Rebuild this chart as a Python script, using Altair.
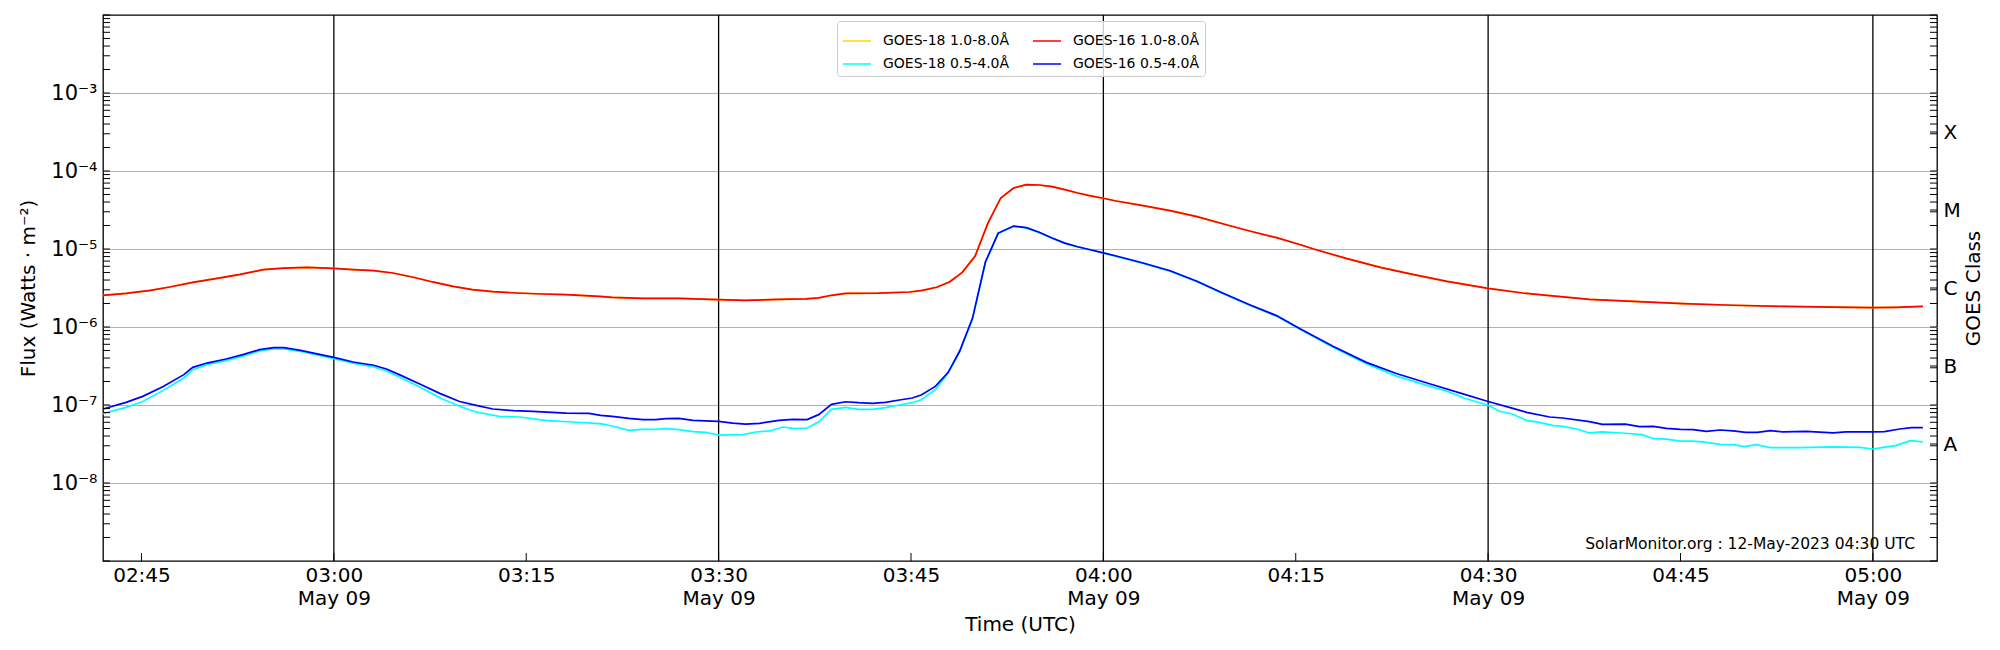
import altair as alt
import pandas as pd

# ---------------- data (minutes after 03:00 UTC, 2023-05-09) ----------------
g16_long_t = [-18, -16.2, -14.3, -12.8, -11, -9.1, -7.3, -5.5, -3.9, -2.1, 0, 1.5, 3.1, 4.6, 6.2,
              7.7, 9.3, 10.8, 12.4, 14.2, 16.3, 18.1, 20.7, 21.7, 24.1, 26.9, 30, 32.1, 34.7, 36.8,
              37.8, 38.8, 39.9, 42.5, 44.9, 45.9, 47, 48, 49, 50, 51, 52, 53, 54, 55, 56, 57, 58,
              59, 60, 61, 63.1, 65.2, 67.3, 69.3, 71.4, 73.5, 75.3, 76.4, 79, 81.6, 84.2, 86.8, 90,
              92.7, 94.8, 97.9, 101.3, 105.2, 109.1, 113, 116.9, 120, 121.8, 123.9]
g16_long_v = [2.55e-6, 2.70e-6, 2.95e-6, 3.26e-6, 3.74e-6, 4.21e-6, 4.73e-6, 5.43e-6, 5.70e-6, 5.82e-6,
              5.65e-6, 5.43e-6, 5.27e-6, 4.92e-6, 4.34e-6, 3.78e-6, 3.32e-6, 3.01e-6, 2.84e-6, 2.73e-6,
              2.65e-6, 2.60e-6, 2.47e-6, 2.40e-6, 2.33e-6, 2.33e-6, 2.24e-6, 2.20e-6, 2.26e-6, 2.29e-6,
              2.36e-6, 2.55e-6, 2.70e-6, 2.72e-6, 2.81e-6, 2.95e-6, 3.23e-6, 3.78e-6, 5.02e-6, 8.13e-6,
              2.15e-5, 4.51e-5, 6.05e-5, 6.68e-5, 6.61e-5, 6.31e-5, 5.77e-5, 5.22e-5, 4.79e-5, 4.47e-5,
              4.12e-5, 3.60e-5, 3.10e-5, 2.60e-5, 2.11e-5, 1.70e-5, 1.40e-5, 1.14e-5, 1.00e-5, 7.52e-6,
              5.82e-6, 4.69e-6, 3.85e-6, 3.13e-6, 2.73e-6, 2.52e-6, 2.26e-6, 2.13e-6, 1.99e-6, 1.90e-6,
              1.84e-6, 1.80e-6, 1.77e-6, 1.79e-6, 1.84e-6]

g18_long_t = g16_long_t
g18_long_v = g16_long_v

g16_short_t = [-18, -16.2, -14.9, -13.3, -11.7, -11, -9.9, -8.4, -7.1, -5.8, -4.7, -3.9, -2.6, -1.4, 0,
               1.5, 3.1, 4.1, 5.1, 6.7, 8.3, 9.8, 11.1, 12.4, 14, 15.5, 18.1, 19.9, 20.8, 21.7, 23,
               24.1, 25.1, 25.9, 26.9, 28, 30, 31.1, 32.1, 33.2, 34.7, 35.8, 36.9, 37.8, 38.8, 39.9,
               40.9, 42, 43, 44.1, 45.1, 45.8, 46.9, 47.9, 48.8, 49.8, 50.8, 51.8, 53, 54, 55, 56, 57,
               58, 59, 60, 61, 63.1, 65.2, 67.3, 69.3, 71.4, 73.5, 75.3, 77.9, 80.5, 82.9, 85.5, 88.1,
               90, 92, 93, 94.8, 95.8, 97.9, 98.9, 100.7, 101.8, 102.9, 103.9, 105, 106, 107, 108.1,
               109.1, 110.1, 111, 112, 113, 114.8, 116.9, 117.9, 120, 120.9, 122.1, 123, 123.9]
g16_short_v = [8.89e-8, 1.08e-7, 1.29e-7, 1.73e-7, 2.45e-7, 3.04e-7, 3.45e-7, 3.89e-7, 4.42e-7, 5.13e-7,
               5.43e-7, 5.43e-7, 5.01e-7, 4.55e-7, 4.08e-7, 3.56e-7, 3.23e-7, 2.90e-7, 2.45e-7, 1.86e-7,
               1.40e-7, 1.11e-7, 9.91e-8, 8.89e-8, 8.45e-8, 8.30e-8, 7.89e-8, 7.82e-8, 7.38e-8, 7.16e-8,
               6.75e-8, 6.49e-8, 6.49e-8, 6.68e-8, 6.75e-8, 6.35e-8, 6.18e-8, 5.87e-8, 5.70e-8, 5.82e-8,
               6.35e-8, 6.55e-8, 6.49e-8, 7.52e-8, 1.02e-7, 1.10e-7, 1.07e-7, 1.05e-7, 1.08e-7, 1.16e-7,
               1.23e-7, 1.34e-7, 1.73e-7, 2.62e-7, 4.92e-7, 1.30e-6, 6.81e-6, 1.60e-5, 1.97e-5, 1.88e-5,
               1.64e-5, 1.38e-5, 1.19e-5, 1.07e-5, 9.79e-6, 8.91e-6, 8.13e-6, 6.62e-6, 5.27e-6, 3.85e-6,
               2.73e-6, 1.93e-6, 1.40e-6, 9.55e-7, 5.65e-7, 3.52e-7, 2.52e-7, 1.86e-7, 1.38e-7, 1.11e-7,
               8.97e-8, 8.05e-8, 7.02e-8, 6.81e-8, 6.11e-8, 5.65e-8, 5.70e-8, 5.27e-8, 5.32e-8, 5.02e-8,
               4.88e-8, 4.83e-8, 4.59e-8, 4.78e-8, 4.65e-8, 4.47e-8, 4.47e-8, 4.69e-8, 4.51e-8, 4.59e-8,
               4.38e-8, 4.51e-8, 4.51e-8, 4.55e-8, 4.92e-8, 5.12e-8, 5.12e-8]

g18_short_t = [-18, -16.2, -14.9, -13.3, -11.7, -11, -9.9, -8.4, -7.1, -5.8, -4.7, -3.9, -2.6, -1.4, 0,
               1.5, 3.1, 4.1, 5.1, 6.7, 8.3, 9.8, 11.1, 12.9, 14.5, 16.6, 18.6, 20.7, 21, 22, 23, 24.1,
               25.1, 25.9, 26.9, 28, 29, 30, 31.9, 32.9, 34, 35, 35.9, 36.9, 37.8, 38.8, 39.9, 40.9,
               42, 43, 44.1, 45.1, 45.8, 46.9, 47.9, 48.8, 49.8, 50.8, 51.8, 53, 54, 55, 56, 57, 58,
               59, 60, 61, 63.1, 65.2, 67.3, 69.3, 71.4, 73.5, 75.3, 77.9, 80.5, 82.9, 85.5, 86.8,
               88.1, 90, 90.9, 91.9, 93, 94, 95.1, 95.8, 96.9, 97.9, 98.9, 100.7, 102, 102.9, 103.9,
               105, 106, 107, 108.1, 109.1, 110, 110.9, 112, 114.3, 116.9, 119, 120, 120.8, 121.8,
               122.9, 123.9]
g18_short_v = [7.74e-8, 9.33e-8, 1.11e-7, 1.54e-7, 2.22e-7, 2.84e-7, 3.29e-7, 3.70e-7, 4.21e-7, 4.92e-7,
               5.22e-7, 5.22e-7, 4.88e-7, 4.42e-7, 3.93e-7, 3.45e-7, 3.07e-7, 2.73e-7, 2.29e-7, 1.70e-7,
               1.23e-7, 9.62e-8, 8.13e-8, 7.16e-8, 7.02e-8, 6.30e-8, 6.05e-8, 5.77e-8, 5.70e-8, 5.22e-8,
               4.73e-8, 4.88e-8, 4.88e-8, 4.98e-8, 4.83e-8, 4.55e-8, 4.47e-8, 4.12e-8, 4.17e-8, 4.51e-8,
               4.65e-8, 5.22e-8, 4.98e-8, 5.07e-8, 6.05e-8, 8.79e-8, 9.33e-8, 8.79e-8, 8.79e-8, 9.25e-8,
               1.00e-7, 1.07e-7, 1.17e-7, 1.57e-7, 2.57e-7, 4.83e-7, 1.28e-6, 6.70e-6, 1.58e-5, 1.95e-5,
               1.86e-5, 1.62e-5, 1.37e-5, 1.18e-5, 1.06e-5, 9.70e-6, 8.85e-6, 8.05e-6, 6.55e-6, 5.20e-6,
               3.80e-6, 2.70e-6, 1.90e-6, 1.38e-6, 9.40e-7, 5.50e-7, 3.39e-7, 2.33e-7, 1.73e-7, 1.50e-7,
               1.23e-7, 9.91e-8, 8.30e-8, 7.67e-8, 6.35e-8, 6.00e-8, 5.43e-8, 5.32e-8, 4.92e-8, 4.38e-8,
               4.51e-8, 4.34e-8, 4.17e-8, 3.70e-8, 3.66e-8, 3.45e-8, 3.45e-8, 3.32e-8, 3.13e-8, 3.10e-8,
               2.92e-8, 3.10e-8, 2.84e-8, 2.84e-8, 2.90e-8, 2.86e-8, 2.73e-8, 2.86e-8, 3.01e-8, 3.49e-8,
               3.36e-8]

# legend order (column-major, two columns) and colours
series_names = ["GOES-18 1.0-8.0Å", "GOES-18 0.5-4.0Å", "GOES-16 1.0-8.0Å", "GOES-16 0.5-4.0Å"]
series_colors = ["#FFD700", "#00FFFF", "#FF0000", "#0000FF"]
draw_order = ["GOES-18 1.0-8.0Å", "GOES-18 0.5-4.0Å", "GOES-16 1.0-8.0Å", "GOES-16 0.5-4.0Å"]

x_tick_minutes = [-15, 0, 15, 30, 45, 60, 75, 90, 105, 120]
x_vline_minutes = [0, 30, 60, 90, 120]
y_label_values = [1e-8, 1e-7, 1e-6, 1e-5, 1e-4, 1e-3]
class_values = [10 ** -7.5, 10 ** -6.5, 10 ** -5.5, 10 ** -4.5, 10 ** -3.5]
minor_tick_values = [m * 10.0 ** e for e in range(-9, -2) for m in range(1, 10)] + [1e-2]
watermark = "SolarMonitor.org : 12-May-2023 04:30 UTC"

# ---------------- helpers ----------------
BASE = pd.Timestamp("2023-05-09 03:00:00")


def iso(m):
    return (BASE + pd.to_timedelta(m, unit="m")).strftime("%Y-%m-%dT%H:%M:%SZ")


def ms(m):
    return int((BASE + pd.to_timedelta(m, unit="m")).value // 10 ** 6)


rows = []
for name, ts, vs in [("GOES-18 1.0-8.0Å", g18_long_t, g18_long_v),
                     ("GOES-16 1.0-8.0Å", g16_long_t, g16_long_v),
                     ("GOES-18 0.5-4.0Å", g18_short_t, g18_short_v),
                     ("GOES-16 0.5-4.0Å", g16_short_t, g16_short_v)]:
    for t, v in zip(ts, vs):
        rows.append({"series": name, "time": iso(t), "flux": v})
df = pd.DataFrame(rows)

W, H = 1834, 546
FONT = "DejaVu Sans"

x_scale = alt.Scale(type="utc", domain=[ms(-18), ms(125)])
y_scale = alt.Scale(type="log", domain=[1e-9, 1e-2])

x_axis = alt.Axis(
    orient="bottom",
    values=[ms(m) for m in x_tick_minutes],
    labelExpr="(utcFormat(datum.value, '%M') == '00' || utcFormat(datum.value, '%M') == '30') ? "
              "[utcFormat(datum.value, '%H:%M'), utcFormat(datum.value, '%b %d')] : utcFormat(datum.value, '%H:%M')",
    ticks=False, grid=False, domain=False,
    labelFont=FONT, labelFontSize=20, labelColor="black", labelPadding=4, labelLineHeight=23,
    labelFlush=False, labelOverlap=False, labelBaseline="top",
    title="Time (UTC)", titleFont=FONT, titleFontSize=20, titleFontWeight="normal",
    titleColor="black", titlePadding=6,
)
y_axis_left = alt.Axis(
    orient="left", values=y_label_values,
    labelExpr="'10⁻' + ['⁰','¹','²','³','⁴','⁵','⁶','⁷','⁸','⁹'][-round(log(datum.value)/LN10)]",
    grid=True, gridColor="#b0b0b0", gridWidth=1, ticks=False, domain=False,
    labelFont=FONT, labelFontSize=21, labelColor="black", labelPadding=6,
    title="Flux (Watts · m⁻²)", titleFont=FONT, titleFontSize=20, titleFontWeight="normal",
    titleColor="black", titlePadding=12,
)
y_axis_right = alt.Axis(
    orient="right", values=class_values,
    labelExpr="['X','M','C','B','A'][round(-log(datum.value)/LN10 - 3.5)]",
    grid=False, ticks=False, domain=False,
    labelFont=FONT, labelFontSize=20, labelColor="black", labelPadding=6,
    title="GOES Class", titleFont=FONT, titleFontSize=20, titleFontWeight="normal",
    titleColor="black", titleAngle=270, titleBaseline="middle", titleAlign="center",
    titleX=36, titleY=H / 2,
)

color = alt.Color(
    "series:N",
    scale=alt.Scale(domain=series_names, range=series_colors),
    legend=alt.Legend(
        orient="none", legendX=734, legendY=6, columns=2, title=None,
        symbolType="stroke", symbolSize=784, symbolStrokeWidth=1.5,
        labelFont=FONT, labelFontSize=14, labelColor="black", labelOffset=11,
        strokeColor="#cccccc", fillColor="rgba(255,255,255,0.8)", cornerRadius=3,
        padding=5, rowPadding=1, columnPadding=20,
    ),
)

layers = []

# vertical black lines (carry the time axis)
vdf = pd.DataFrame({"t": [iso(m) for m in x_vline_minutes]})
layers.append(alt.Chart(vdf).mark_rule(color="black", strokeWidth=1.3).encode(
    x=alt.X("t:T", scale=x_scale, axis=x_axis)))

# series lines
for i, name in enumerate(draw_order):
    layers.append(
        alt.Chart(df).transform_filter(alt.datum.series == name).mark_line(strokeWidth=1.7).encode(
            x=alt.X("time:T", scale=x_scale, axis=None),
            y=alt.Y("flux:Q", scale=y_scale, axis=y_axis_left if i == 0 else None),
            color=color,
        )
    )

# bottom inward ticks
tdf = pd.DataFrame({"t": [iso(m) for m in x_tick_minutes]})
layers.append(alt.Chart(tdf).mark_rule(color="black", strokeWidth=1).encode(
    x=alt.X("t:T", scale=x_scale, axis=None), y=alt.value(H), y2=alt.value(H - 8)))

# left inward ticks
mdf = pd.DataFrame({"v": minor_tick_values})
layers.append(alt.Chart(mdf).mark_rule(color="black", strokeWidth=1).encode(
    y=alt.Y("v:Q", scale=y_scale, axis=None), x=alt.value(0), x2=alt.value(7)))

# right inward ticks + GOES class axis
rdf = pd.DataFrame({"v": minor_tick_values + class_values})
layers.append(alt.Chart(rdf).mark_rule(color="black", strokeWidth=1).encode(
    y=alt.Y("v:Q", scale=y_scale, axis=y_axis_right), x=alt.value(W - 7), x2=alt.value(W)))

# watermark
wdf = pd.DataFrame({"label": [watermark]})
layers.append(alt.Chart(wdf).mark_text(align="right", baseline="alphabetic", font=FONT,
                                       fontSize=15.5, color="black").encode(
    x=alt.value(W - 22), y=alt.value(H - 12), text="label:N"))

chart = alt.layer(*layers).resolve_axis(x="independent", y="independent").properties(
    width=W, height=H,
    autosize=alt.AutoSizeParams(type="none"),
    padding={"left": 95, "top": 7, "right": 50, "bottom": 80},
    background="white",
).configure_view(stroke="black", strokeWidth=1.3)

chart.save("out.html", embed_options={"renderer": "svg", "actions": False})
